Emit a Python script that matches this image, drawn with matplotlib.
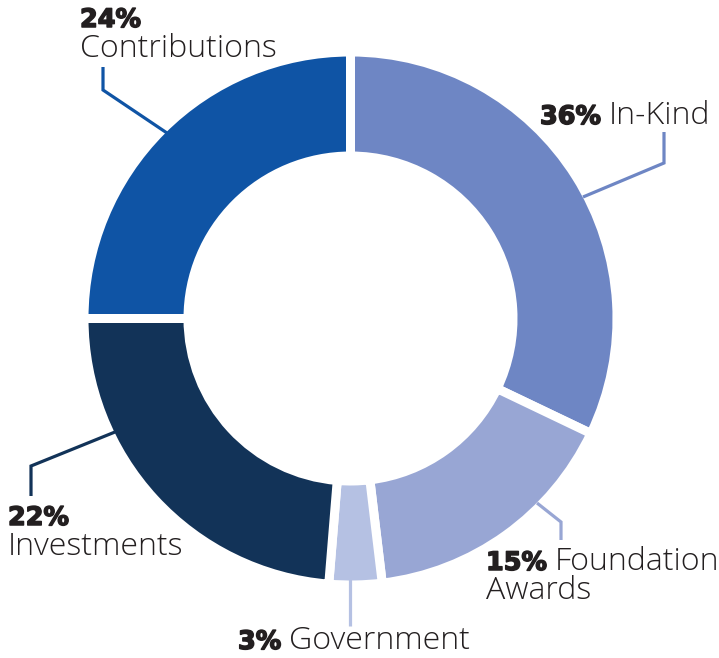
import matplotlib
matplotlib.use("Agg")
import matplotlib.pyplot as plt
import matplotlib.patheffects as pe

# ---- data ----
categories = ["In-Kind", "Foundation\nAwards", "Government", "Investments", "Contributions"]
label_pcts = ["36%", "15%", "3%", "22%", "24%"]
# slice sizes as drawn in the picture (share of the ring)
slice_sizes = [32.1, 16.0, 3.2, 23.7, 25.0]
colors = ["#6e86c4", "#98a6d4", "#b5c1e3", "#123358", "#0f54a5"]

W, H = 719, 658
fig = plt.figure(figsize=(W / 100, H / 100), dpi=100)
ax = fig.add_axes([0, 0, 1, 1])

def Y(y):
    return H - y

cx, cy = 350.5, Y(318.5)
gap_px = 9
R = 262 + gap_px / 2
ring = 95 + gap_px

ax.pie(slice_sizes, colors=colors, startangle=90, counterclock=False,
       radius=R, center=(cx, cy),
       wedgeprops=dict(width=ring, edgecolor="white", linewidth=gap_px * 72 / 100))

ax.set_xlim(0, W)
ax.set_ylim(0, H)
ax.set_aspect("equal")
ax.axis("off")

# leader lines (image pixel coords)
leaders = [
    [(583, 197), (664, 163), (664, 132)],
    [(537, 503), (561, 522), (561, 540)],
    [(350, 578), (350, 626)],
    [(115, 432), (31, 466), (31, 496)],
    [(167, 133), (103, 90), (103, 67)],
]
for pts, c in zip(leaders, colors):
    xs = [p[0] for p in pts]
    ys = [Y(p[1]) for p in pts]
    ax.plot(xs, ys, color=c, lw=2.3, solid_joinstyle="miter", solid_capstyle="butt", zorder=1)

txt_color = "#231f20"
reg_family = "Open Sans"
bold_family = "DejaVu Sans"

renderer = fig.canvas.get_renderer()

def fit_size(s, family, weight, target_px, base=20):
    t = ax.text(0, 0, s, family=family, weight=weight, fontsize=base)
    w = t.get_window_extent(renderer=renderer).width
    t.remove()
    return base * target_px / w

fs_reg = fit_size("Contributions", reg_family, "light", 197)
fs_bold = fit_size("24%", bold_family, "heavy", 61)

thick = [pe.withStroke(linewidth=1.1, foreground=txt_color)]
bold = dict(family=bold_family, weight="heavy", fontsize=fs_bold, color=txt_color,
            path_effects=thick)
reg = dict(family=reg_family, weight="light", fontsize=fs_reg, color=txt_color)

def two_part(x, y, pct, name):
    t = ax.text(x, Y(y), pct, ha="left", va="baseline", **bold)
    bb = t.get_window_extent(renderer=renderer)
    x2 = bb.x1 + 8
    ax.text(x2, Y(y), name, ha="left", va="baseline", **reg)

# In-Kind
two_part(540, 124, label_pcts[0], categories[0])
# Foundation Awards
name_lines = categories[1].split("\n")
two_part(486, 570, label_pcts[1], name_lines[0])
ax.text(486, Y(599), name_lines[1], ha="left", va="baseline", **reg)
# Government
two_part(238, 649, label_pcts[2], categories[2])
# Investments
ax.text(8, Y(525), label_pcts[3], ha="left", va="baseline", **bold)
ax.text(8, Y(555), categories[3], ha="left", va="baseline", **reg)
# Contributions
ax.text(80, Y(27), label_pcts[4], ha="left", va="baseline", **bold)
ax.text(80, Y(57), categories[4], ha="left", va="baseline", **reg)

fig.savefig("out.png", dpi=100)
